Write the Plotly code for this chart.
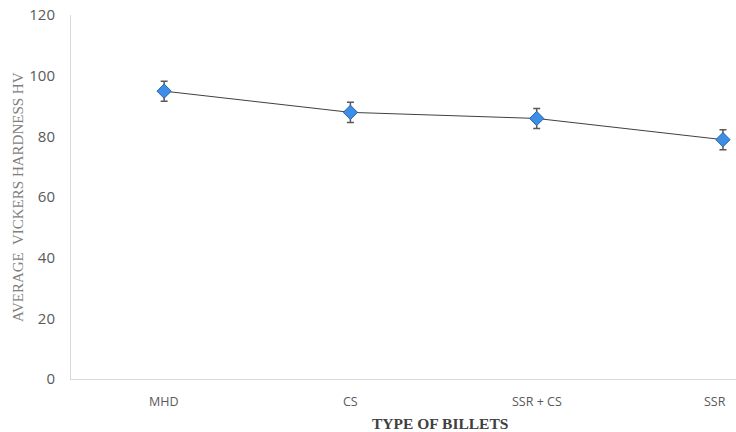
import plotly.graph_objects as go

categories = ["MHD", "CS", "SSR + CS", "SSR"]
hardness = [94.9, 87.9, 85.9, 78.9]
errors = [3.3, 3.3, 3.3, 3.3]
y_ticks = [0, 20, 40, 60, 80, 100, 120]

fig = go.Figure()
fig.add_trace(go.Scatter(
    x=categories, y=hardness,
    mode="lines+markers",
    line=dict(color="#404040", width=1),
    marker=dict(symbol="diamond", size=11, color="#3c8ee6",
                line=dict(color="#2a62a8", width=1)),
    error_y=dict(type="data", array=errors, visible=True,
                 color="#595959", thickness=1.5, width=3.5),
    showlegend=False,
))

# category labels placed on the category axis positions
label_annotations = []
for i, cat in enumerate(categories):
    label_annotations.append(dict(
        text=cat, xref="x", yref="paper", x=cat, y=0, yshift=-22,
        xanchor="center", yanchor="middle", showarrow=False,
        xshift=-8 if i == len(categories) - 1 else 0,
        font=dict(family="Open Sans", size=12.5, color="#595959")))

fig.update_layout(
    width=736, height=432,
    margin=dict(l=71, r=0, t=15, b=53, autoexpand=False),
    paper_bgcolor="white", plot_bgcolor="white",
    xaxis=dict(type="category", range=[-0.5, 3.07],
               showline=True, linecolor="#d9d9d9", linewidth=1,
               showgrid=False, zeroline=False, ticks="",
               showticklabels=False, automargin=False),
    yaxis=dict(range=[0, 120], tickvals=y_ticks,
               showline=True, linecolor="#d9d9d9", linewidth=1,
               showgrid=False, zeroline=False, ticks="",
               ticklabeloverflow="allow", automargin=False,
               tickfont=dict(family="Open Sans", size=15, color="#595959"),
               ticklabelstandoff=12),
    annotations=label_annotations + [
        dict(text="<b>TYPE OF BILLETS</b>", xref="paper", yref="paper",
             x=0.555, y=0, yshift=-44, xanchor="center", yanchor="middle",
             showarrow=False,
             font=dict(family="Liberation Serif", size=15.5, color="#404040")),
        dict(text="AVERAGE  VICKERS HARDNESS HV", xref="paper", yref="paper",
             x=0, xshift=-53, y=0.5, yshift=0, textangle=-90,
             xanchor="center", yanchor="middle", showarrow=False,
             font=dict(family="Liberation Serif", size=15, color="#7f7f7f")),
    ],
)

fig.write_html(
    "out.html",
    config={"displayModeBar": False},
    post_script="document.body.style.margin='0';document.body.style.overflow='hidden';",
)
